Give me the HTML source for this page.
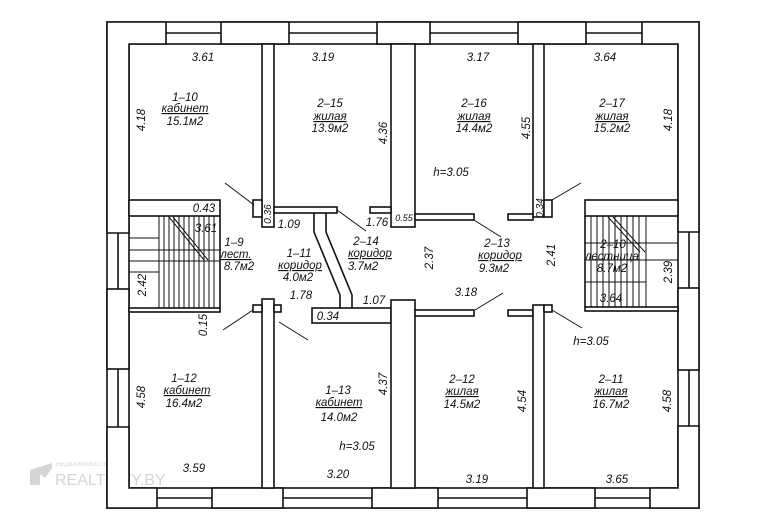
<!DOCTYPE html>
<html><head><meta charset="utf-8"><style>
html,body{margin:0;padding:0;background:#fff;}
svg{display:block;}
text{font-family:"Liberation Sans",sans-serif;font-style:italic;font-size:11.5px;fill:#111;text-anchor:middle;}
.u{text-decoration:underline;}
</style></head><body>
<svg width="781" height="520" viewBox="0 0 781 520" xmlns="http://www.w3.org/2000/svg">
<rect width="781" height="520" fill="#fff"/>
<!-- watermark -->
<g opacity="0.35">
<path d="M30 470 L30 485 L40 485 L40 474 L45 478 L52 468 L52 463 Z" fill="#888"/>
<text x="56" y="466" style="font-size:6px;font-style:normal;text-anchor:start;fill:#888">НЕДВИЖИМОСТЬ</text>
<text x="55" y="485" style="font-size:16px;font-style:normal;text-anchor:start;fill:#888">REALTCITY.BY</text>
</g>
<g fill="none" stroke="#111" stroke-width="1.6">
<!-- exterior -->
<rect x="107" y="22" width="592" height="486"/>
<rect x="129" y="44" width="549" height="444"/>
<!-- window middle lines -->
<line x1="166" y1="33" x2="221" y2="33"/><line x1="289" y1="33" x2="377" y2="33"/>
<line x1="430" y1="33" x2="518" y2="33"/><line x1="586" y1="33" x2="642" y2="33"/>
<line x1="157" y1="498" x2="212" y2="498"/><line x1="283" y1="498" x2="372" y2="498"/>
<line x1="438" y1="498" x2="527" y2="498"/><line x1="595" y1="498" x2="650" y2="498"/>
<line x1="118" y1="233" x2="118" y2="289"/><line x1="118" y1="369" x2="118" y2="427"/>
<line x1="689" y1="232" x2="689" y2="288"/><line x1="689" y1="370" x2="689" y2="426"/>
<!-- corner piers -->
<polygon points="107,22 166,22 166,44 129,44 129,233 107,233" fill="#fff"/>
<polygon points="642,22 699,22 699,232 678,232 678,44 642,44" fill="#fff"/>
<polygon points="107,427 129,427 129,488 157,488 157,508 107,508" fill="#fff"/>
<polygon points="678,426 699,426 699,508 650,508 650,488 678,488" fill="#fff"/>
<!-- top piers -->
<rect x="221" y="22" width="68" height="22" fill="#fff"/>
<rect x="377" y="22" width="53" height="22" fill="#fff"/>
<rect x="518" y="22" width="68" height="22" fill="#fff"/>
<!-- bottom piers -->
<rect x="212" y="488" width="71" height="20" fill="#fff"/>
<rect x="372" y="488" width="66" height="20" fill="#fff"/>
<rect x="527" y="488" width="68" height="20" fill="#fff"/>
<!-- side piers -->
<rect x="107" y="289" width="22" height="80" fill="#fff"/>
<rect x="678" y="288" width="21" height="82" fill="#fff"/>
<!-- interior upper walls -->
<rect x="262" y="44" width="12" height="183" fill="#fff"/>
<rect x="391" y="44" width="24" height="183" fill="#fff"/>
<rect x="533" y="44" width="11" height="173" fill="#fff"/>
<rect x="253" y="200" width="9" height="17" fill="#fff"/>
<rect x="544" y="200" width="8" height="17" fill="#fff"/>
<rect x="274" y="207" width="63" height="6" fill="#fff"/>
<rect x="370" y="207" width="21" height="6" fill="#fff"/>
<rect x="415" y="214" width="59" height="6" fill="#fff"/>
<rect x="508" y="214" width="25" height="6" fill="#fff"/>
<!-- stairs left -->
<rect x="129" y="200" width="91" height="16" fill="#fff"/>
<rect x="129" y="308" width="91" height="4" fill="#fff"/>
<line x1="220" y1="216" x2="220" y2="308"/>
<!-- stairs right -->
<rect x="585" y="200" width="93" height="16" fill="#fff"/>
<rect x="585" y="307" width="93" height="4" fill="#fff"/>
<line x1="585" y1="216" x2="585" y2="307"/>
<!-- lower walls -->
<rect x="262" y="299" width="12" height="189" fill="#fff"/>
<rect x="253" y="305" width="9" height="7" fill="#fff"/>
<rect x="274" y="305" width="7" height="7" fill="#fff"/>
<rect x="312" y="308" width="79" height="15" fill="#fff"/>
<rect x="391" y="300" width="24" height="188" fill="#fff"/>
<rect x="415" y="310" width="59" height="6" fill="#fff"/>
<rect x="508" y="310" width="25" height="6" fill="#fff"/>
<rect x="533" y="305" width="11" height="183" fill="#fff"/>
<rect x="544" y="305" width="8" height="7" fill="#fff"/>
<!-- corridor partitions -->
<polyline points="314,213 314,232 340,295 340,308"/>
<polyline points="326,213 326,232 352,295 352,308"/>
</g>
<g fill="none" stroke="#111" stroke-width="1">
<!-- door swings -->
<line x1="225" y1="183" x2="254" y2="205"/>
<line x1="337" y1="210" x2="366" y2="231"/>
<line x1="474" y1="220" x2="501" y2="237"/>
<line x1="552" y1="200" x2="581" y2="183"/>
<line x1="253" y1="310" x2="223" y2="330"/>
<line x1="279" y1="322" x2="308" y2="340"/>
<line x1="475" y1="310" x2="503" y2="293"/>
<line x1="552" y1="310" x2="582" y2="328"/>
<!-- left stair -->
<line x1="159" y1="216" x2="159" y2="308"/>
<line x1="164" y1="216" x2="164" y2="308"/><line x1="169" y1="216" x2="169" y2="308"/>
<line x1="174" y1="216" x2="174" y2="308"/><line x1="179" y1="216" x2="179" y2="308"/>
<line x1="184" y1="216" x2="184" y2="308"/><line x1="189" y1="216" x2="189" y2="308"/>
<line x1="194" y1="216" x2="194" y2="308"/><line x1="199" y1="216" x2="199" y2="308"/>
<line x1="204" y1="216" x2="204" y2="308"/><line x1="209" y1="216" x2="209" y2="308"/>
<line x1="214" y1="216" x2="214" y2="308"/>
<line x1="129" y1="250" x2="220" y2="250"/><line x1="129" y1="261" x2="220" y2="261"/>
<line x1="129" y1="238" x2="159" y2="238"/><line x1="129" y1="272" x2="159" y2="272"/>
<line x1="169" y1="217" x2="204" y2="260"/><line x1="173" y1="217" x2="208" y2="260"/>
<!-- right stair -->
<line x1="591" y1="216" x2="591" y2="307"/><line x1="597" y1="216" x2="597" y2="307"/>
<line x1="603" y1="216" x2="603" y2="307"/><line x1="609" y1="216" x2="609" y2="307"/>
<line x1="615" y1="216" x2="615" y2="307"/><line x1="621" y1="216" x2="621" y2="307"/>
<line x1="627" y1="216" x2="627" y2="307"/><line x1="633" y1="216" x2="633" y2="307"/>
<line x1="639" y1="216" x2="639" y2="307"/><line x1="646" y1="216" x2="646" y2="307"/>
<line x1="585" y1="243" x2="678" y2="243"/><line x1="585" y1="260" x2="678" y2="260"/>
<line x1="585" y1="282" x2="646" y2="282"/>
<line x1="608" y1="217" x2="640" y2="252"/><line x1="613" y1="217" x2="645" y2="252"/>
</g>
<!-- labels -->
<text x="203" y="61">3.61</text><text x="323" y="61">3.19</text><text x="478" y="61">3.17</text><text x="605" y="61">3.64</text>
<text x="185" y="101">1–10</text><text x="185" y="112" class="u">кабинет</text><text x="185" y="125">15.1м2</text>
<text x="330" y="107">2–15</text><text x="330" y="120" class="u">жилая</text><text x="330" y="132">13.9м2</text>
<text x="474" y="107">2–16</text><text x="474" y="120" class="u">жилая</text><text x="474" y="132">14.4м2</text>
<text x="612" y="107">2–17</text><text x="612" y="120" class="u">жилая</text><text x="612" y="132">15.2м2</text>
<text transform="translate(145,120) rotate(-90)">4.18</text>
<text transform="translate(387,133) rotate(-90)">4.36</text>
<text transform="translate(530,128) rotate(-90)">4.55</text>
<text transform="translate(672,120) rotate(-90)">4.18</text>
<text x="451" y="176">h=3.05</text>
<text x="204" y="212">0.43</text><text x="206" y="232">3.61</text>
<text transform="translate(271,214) rotate(-90)" style="font-size:10px">0.36</text>
<text x="289" y="228">1.09</text><text x="377" y="226">1.76</text>
<text x="404" y="221" style="font-size:9px">0.55</text>
<text transform="translate(543,208) rotate(-90)" style="font-size:10px">0.34</text>
<text x="234" y="246">1–9</text><text x="236" y="258" class="u">лест.</text><text x="239" y="270">8.7м2</text>
<text x="299" y="257">1–11</text><text x="300" y="269" class="u">коридор</text><text x="298" y="281">4.0м2</text>
<text x="366" y="245">2–14</text><text x="370" y="257" class="u">коридор</text><text x="363" y="270">3.7м2</text>
<text transform="translate(433,258) rotate(-90)">2.37</text>
<text x="497" y="247">2–13</text><text x="500" y="259" class="u">коридор</text><text x="494" y="272">9.3м2</text>
<text transform="translate(555,255) rotate(-90)">2.41</text>
<text x="613" y="248">2–10</text><text x="612" y="260">лестница</text><text x="612" y="272">8.7м2</text>
<text transform="translate(672,272) rotate(-90)">2.39</text>
<text x="611" y="302">3.64</text>
<text transform="translate(146,285) rotate(-90)">2.42</text>
<text x="301" y="299">1.78</text><text x="374" y="304">1.07</text><text x="328" y="320">0.34</text>
<text x="466" y="296">3.18</text>
<text transform="translate(207,325) rotate(-90)">0.15</text>
<text x="591" y="345">h=3.05</text>
<text x="184" y="382">1–12</text><text x="187" y="394" class="u">кабинет</text><text x="184" y="407">16.4м2</text>
<text transform="translate(145,397) rotate(-90)">4.58</text>
<text x="338" y="394">1–13</text><text x="339" y="406" class="u">кабинет</text><text x="339" y="421">14.0м2</text>
<text transform="translate(387,384) rotate(-90)">4.37</text>
<text x="462" y="383">2–12</text><text x="462" y="395" class="u">жилая</text><text x="462" y="408">14.5м2</text>
<text transform="translate(526,401) rotate(-90)">4.54</text>
<text x="611" y="383">2–11</text><text x="611" y="395" class="u">жилая</text><text x="611" y="408">16.7м2</text>
<text transform="translate(671,401) rotate(-90)">4.58</text>
<text x="357" y="450">h=3.05</text>
<text x="194" y="472">3.59</text><text x="338" y="478">3.20</text><text x="477" y="483">3.19</text><text x="617" y="483">3.65</text>
</svg>
</body></html>
